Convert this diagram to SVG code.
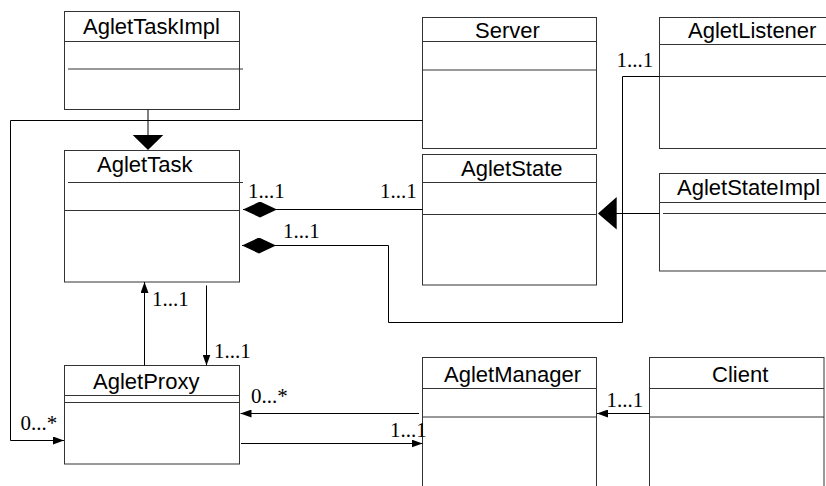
<svg xmlns="http://www.w3.org/2000/svg" width="826" height="486" viewBox="0 0 826 486">
<defs>
<style>
.box{fill:#fff;stroke:#333;stroke-width:1}
.div{stroke:#333;stroke-width:1;fill:none}
.t{font-family:"Liberation Sans",Arial,sans-serif;font-size:22px;fill:#000}
.m{font-family:"Liberation Serif","Times New Roman",serif;font-size:21px;fill:#000}
.ln{fill:none;stroke:#000;stroke-width:1}
.arr{marker-end:url(#ah)}
.dia{marker-end:url(#dm)}
.tri{fill:#000;stroke:none}
</style>
<marker id="ah" markerUnits="userSpaceOnUse" markerWidth="11" markerHeight="8" refX="11" refY="4" orient="auto">
<path d="M0,0 L11,4 L0,8 z" fill="#000"/>
</marker>
<marker id="dm" markerUnits="userSpaceOnUse" markerWidth="34" markerHeight="16" refX="34" refY="8" orient="auto">
<path d="M0,8 L17,0 L34,8 L17,16 z" fill="#000"/>
</marker>
</defs>
<rect width="826" height="486" fill="#fff"/>

<g id="AgletTaskImpl">
<rect class="box" x="64.5" y="11.5" width="175" height="98"/>
<line class="div" x1="64.5" y1="41.5" x2="239.5" y2="41.5"/>
<line class="div" x1="68" y1="69" x2="243" y2="69"/>
<text class="t" x="83" y="34">AgletTaskImpl</text>
</g>

<g id="Server">
<rect class="box" x="422.5" y="17.5" width="174" height="131"/>
<line class="div" x1="422.5" y1="41.5" x2="596.5" y2="41.5"/>
<line class="div" x1="422.5" y1="70" x2="596.5" y2="70"/>
<text class="t" x="475" y="38">Server</text>
</g>

<g id="AgletListener">
<rect class="box" x="659.5" y="17.5" width="180" height="131"/>
<line class="div" x1="659.5" y1="44.5" x2="839" y2="44.5"/>
<line class="div" x1="659.5" y1="76.5" x2="839" y2="76.5"/>
<text class="t" x="688" y="38">AgletListener</text>
</g>

<g id="AgletTask">
<rect class="box" x="64.5" y="150.5" width="175" height="131.5"/>
<line class="div" x1="68" y1="182.5" x2="243" y2="182.5"/>
<line class="div" x1="64.5" y1="210.5" x2="239.5" y2="210.5"/>
<text class="t" x="97" y="172">AgletTask</text>
</g>

<g id="AgletState">
<rect class="box" x="422.5" y="154.5" width="174" height="130.5"/>
<line class="div" x1="422.5" y1="182.5" x2="596.5" y2="182.5"/>
<line class="div" x1="422.5" y1="214.5" x2="596.5" y2="214.5"/>
<text class="t" x="461" y="176">AgletState</text>
</g>

<g id="AgletStateImpl">
<rect class="box" x="659.5" y="173.5" width="180" height="97.5"/>
<line class="div" x1="659.5" y1="202.5" x2="839" y2="202.5"/>
<line class="div" x1="663" y1="213.5" x2="839" y2="213.5"/>
<text class="t" x="677" y="195">AgletStateImpl</text>
</g>

<g id="AgletProxy">
<rect class="box" x="64.5" y="365.5" width="175" height="98.5"/>
<line class="div" x1="64.5" y1="395.5" x2="239.5" y2="395.5"/>
<line class="div" x1="64.5" y1="402.5" x2="239.5" y2="402.5"/>
<text class="t" x="93" y="389">AgletProxy</text>
</g>

<g id="AgletManager">
<rect class="box" x="422.5" y="357.5" width="174" height="140"/>
<line class="div" x1="422.5" y1="388.5" x2="596.5" y2="388.5"/>
<line class="div" x1="422.5" y1="417" x2="596.5" y2="417"/>
<text class="t" x="444" y="382">AgletManager</text>
</g>

<g id="Client">
<rect class="box" x="649.5" y="357.5" width="174.5" height="140"/>
<line class="div" x1="649.5" y1="388.5" x2="824" y2="388.5"/>
<line class="div" x1="649.5" y1="417" x2="824" y2="417"/>
<text class="t" x="712" y="382">Client</text>
</g>

<g id="connectors">
<line class="ln" x1="148" y1="109.5" x2="148" y2="136"/>
<polygon class="tri" points="132.7,135 163.3,135 148,150"/>

<polyline class="ln arr" points="422.5,120.5 10.5,120.5 10.5,440.5 64,440.5"/>

<line class="ln dia" x1="422.5" y1="209.5" x2="243" y2="209.5"/>

<polyline class="ln dia" points="659.5,76.5 622.5,76.5 622.5,322.5 388.5,322.5 388.5,245.5 242,245.5"/>

<line class="ln" x1="659.5" y1="213.5" x2="615" y2="213.5"/>
<polygon class="tri" points="616.7,197 616.7,229.5 598,213.5"/>

<line class="ln arr" x1="144.5" y1="365.5" x2="144.5" y2="282"/>
<line class="ln arr" x1="206.5" y1="285.5" x2="206.5" y2="365.5"/>

<line class="ln arr" x1="419" y1="413.5" x2="240.5" y2="413.5"/>
<line class="ln arr" x1="241" y1="443.5" x2="422.5" y2="443.5"/>
<line class="ln arr" x1="649.5" y1="413.5" x2="597" y2="413.5"/>
</g>

<g id="labels">
<text class="m" x="248" y="198">1...1</text>
<text class="m" x="380" y="198">1...1</text>
<text class="m" x="283" y="238">1...1</text>
<text class="m" x="616.5" y="66.5">1...1</text>
<text class="m" x="152" y="305.5">1...1</text>
<text class="m" x="214" y="357.5">1...1</text>
<text class="m" x="251" y="402.5">0...*</text>
<text class="m" x="390" y="436.5">1...1</text>
<text class="m" x="606.5" y="406.5">1...1</text>
<text class="m" x="20.5" y="430">0...*</text>
</g>
</svg>
